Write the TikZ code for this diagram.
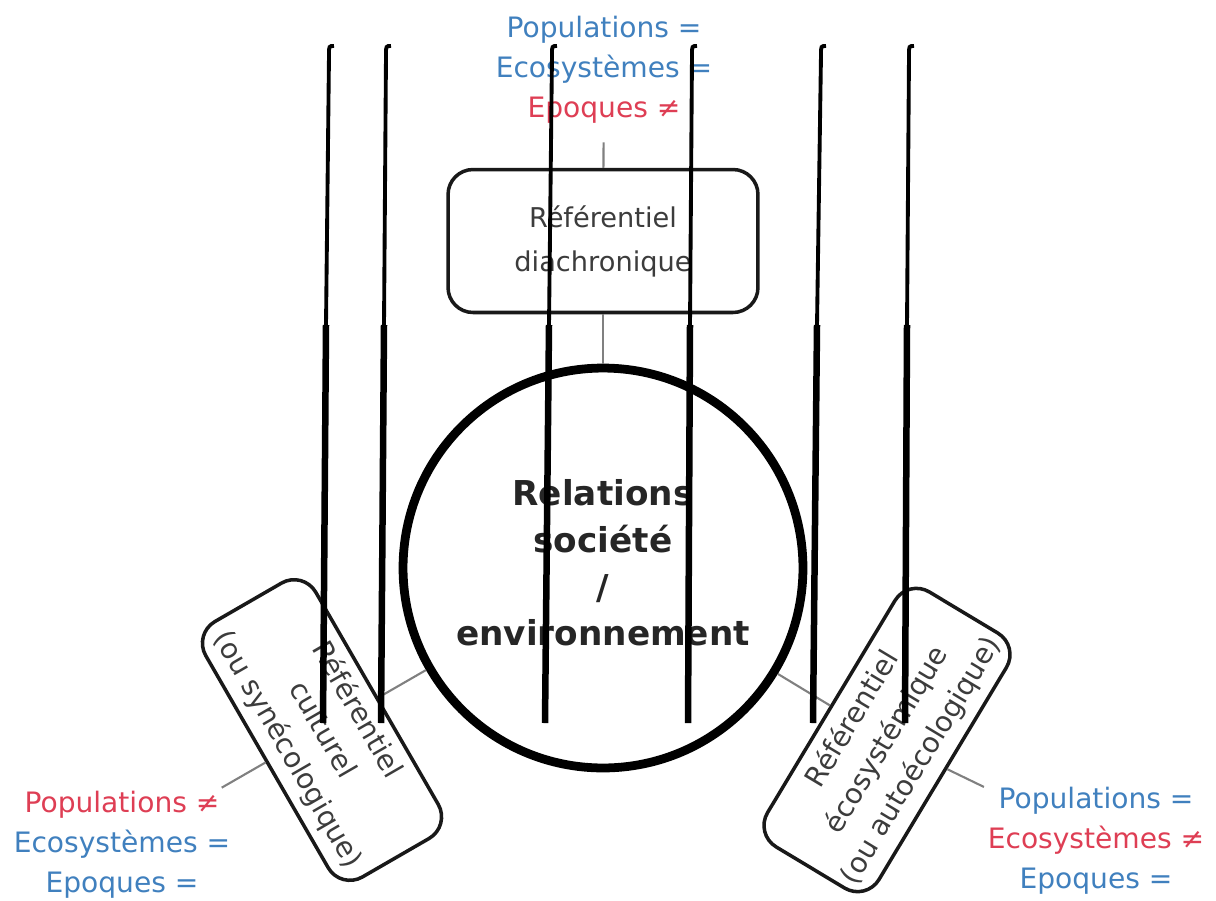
\documentclass[tikz,border=0pt]{standalone}
\usepackage{fontspec}
\setmainfont{DejaVu Sans}
\usetikzlibrary{positioning}
\definecolor{popblue}{RGB}{64,128,190}
\definecolor{popred}{RGB}{222,62,84}
\definecolor{boxtext}{RGB}{60,60,60}

\begin{document}
\begin{tikzpicture}[x=0.02cm,y=-0.02cm,
refbox/.style={draw=black!90,line width=2pt,rounded corners=0.5cm,text=boxtext,align=center,inner sep=1pt},
eqlabel/.style={align=center,font=\fontsize{16}{22.7}\selectfont,inner sep=2pt},
link/.style={draw=black!50,line width=1.2pt},
blackbar/.style={line width=#1,line cap=butt}]
\useasboundingbox (0,0) rectangle (1216,900);
% centre
\node[circle,draw=black,line width=5pt,minimum size=8cm,align=center,text=black!85,text depth=6pt,
font=\bfseries\fontsize{19.5}{26.5}\selectfont](relations)at(603,568){Relations\\société\\/\\environnement};
% referentiels
\node[refbox,minimum width=6.2cm,minimum height=2.86cm,font=\fontsize{15.5}{25}\selectfont]
(diachro)at(603,241){Référentiel\\diachronique};
\node[refbox,rotate=-60,minimum width=5.9cm,minimum height=2.54cm,font=\fontsize{16}{22.7}\selectfont]
(cultural)at(322,730){Référentiel\\culturel\\(ou synécologique)};
\node[refbox,rotate=59,minimum width=5.95cm,minimum height=2.6cm,font=\fontsize{16}{22.7}\selectfont]
(ecosys)at(887,740){Référentiel\\écosystémique\\(ou autoécologique)};
% populations / ecosystemes / epoques
\node[eqlabel](toplab)at(604,70){\textcolor{popblue}{Populations =}\\\textcolor{popblue}{Ecosystèmes =}\\\textcolor{popred}{Epoques ≠}};
\node[eqlabel](leftlab)at(122,845){\textcolor{popred}{Populations ≠}\\\textcolor{popblue}{Ecosystèmes =}\\\textcolor{popblue}{Epoques =}};
\node[eqlabel](rightlab)at(1096,841){\textcolor{popblue}{Populations =}\\\textcolor{popred}{Ecosystèmes ≠}\\\textcolor{popblue}{Epoques =}};
\draw[link,shorten <=0.3cm](toplab)--(diachro);
\draw[link](diachro)--(relations);
\draw[link](relations)--(cultural);\draw[link](cultural)--(leftlab);
\draw[link](relations)--(ecosys);\draw[link](ecosys)--(rightlab);
% black strokes over the picture
\foreach \xt/\xm/\xb in {329/326/323,386/384/381,552/549/545,692/690/688,821/817/813,909/907/905}{
\draw[blackbar=2.2pt](\xt+5,46) .. controls (\xt,46) .. (\xt,54)--(\xm,325);
\draw[blackbar=3.7pt](\xm,325)--(\xb,723);}
\end{tikzpicture}
\end{document}
